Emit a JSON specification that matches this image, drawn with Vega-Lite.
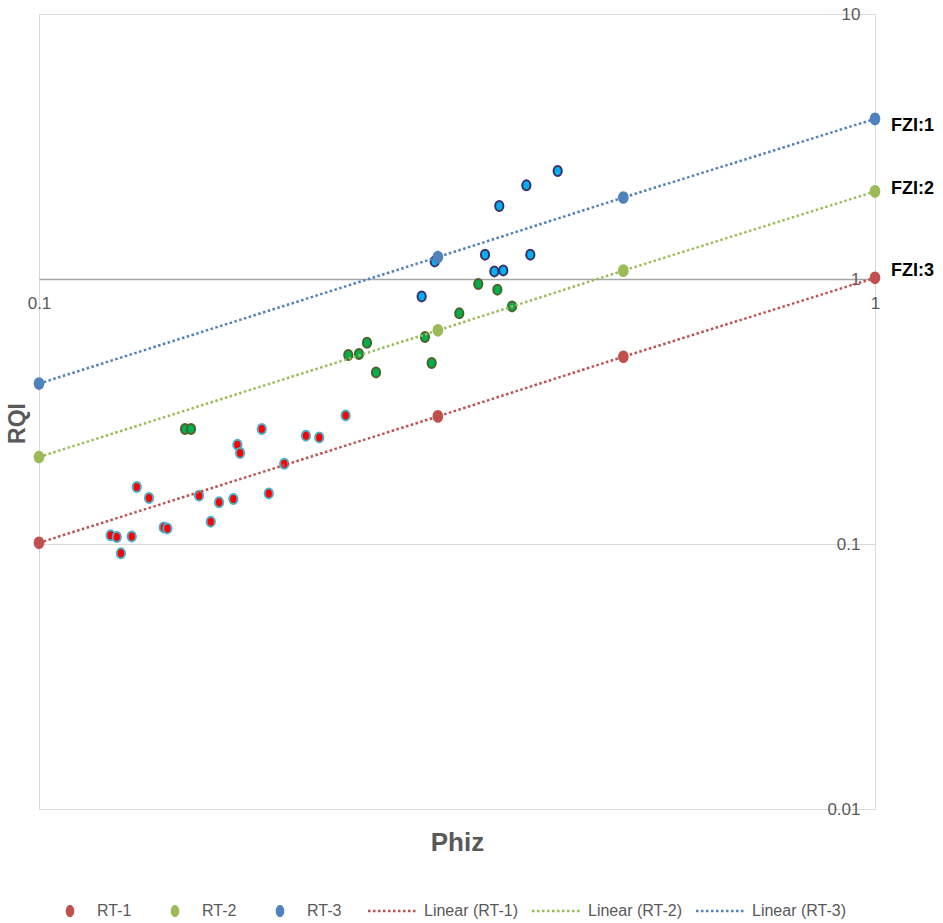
{
  "$schema": "https://vega.github.io/schema/vega-lite/v6.json",
  "width": 836,
  "height": 795,
  "autosize": {"type": "none"},
  "padding": {"left": 39, "top": 14, "right": 68, "bottom": 114},
  "background": "white",
  "config": {
    "view": {"stroke": null},
    "font": "Liberation Sans, sans-serif"
  },
  "datasets": {
    "rt": [
      {"phiz": 0.1, "rqi": 0.101, "series": "RT-1", "trend": "Linear (RT-1)"},
      {"phiz": 0.3, "rqi": 0.303, "series": "RT-1", "trend": "Linear (RT-1)"},
      {"phiz": 0.5, "rqi": 0.509, "series": "RT-1", "trend": "Linear (RT-1)"},
      {"phiz": 1, "rqi": 1.01, "series": "RT-1", "trend": "Linear (RT-1)"},
      {"phiz": 0.1, "rqi": 0.213, "series": "RT-2", "trend": "Linear (RT-2)"},
      {"phiz": 0.3, "rqi": 0.64, "series": "RT-2", "trend": "Linear (RT-2)"},
      {"phiz": 0.5, "rqi": 1.075, "series": "RT-2", "trend": "Linear (RT-2)"},
      {"phiz": 1, "rqi": 2.14, "series": "RT-2", "trend": "Linear (RT-2)"},
      {"phiz": 0.1, "rqi": 0.403, "series": "RT-3", "trend": "Linear (RT-3)"},
      {"phiz": 0.3, "rqi": 1.21, "series": "RT-3", "trend": "Linear (RT-3)"},
      {"phiz": 0.5, "rqi": 2.03, "series": "RT-3", "trend": "Linear (RT-3)"},
      {"phiz": 1, "rqi": 4.02, "series": "RT-3", "trend": "Linear (RT-3)"}
    ],
    "samples": [
      {"phiz": 0.1218, "rqi": 0.1078, "group": "A"},
      {"phiz": 0.1239, "rqi": 0.1063, "group": "A"},
      {"phiz": 0.1253, "rqi": 0.0922, "group": "A"},
      {"phiz": 0.1291, "rqi": 0.1068, "group": "A"},
      {"phiz": 0.1309, "rqi": 0.1641, "group": "A"},
      {"phiz": 0.1354, "rqi": 0.1491, "group": "A"},
      {"phiz": 0.141, "rqi": 0.1155, "group": "A"},
      {"phiz": 0.1424, "rqi": 0.1145, "group": "A"},
      {"phiz": 0.1554, "rqi": 0.1522, "group": "A"},
      {"phiz": 0.1605, "rqi": 0.1214, "group": "A"},
      {"phiz": 0.1642, "rqi": 0.1436, "group": "A"},
      {"phiz": 0.1708, "rqi": 0.1478, "group": "A"},
      {"phiz": 0.1727, "rqi": 0.237, "group": "A"},
      {"phiz": 0.174, "rqi": 0.2205, "group": "A"},
      {"phiz": 0.1847, "rqi": 0.2716, "group": "A"},
      {"phiz": 0.1883, "rqi": 0.1552, "group": "A"},
      {"phiz": 0.1965, "rqi": 0.2009, "group": "A"},
      {"phiz": 0.2086, "rqi": 0.2563, "group": "A"},
      {"phiz": 0.2164, "rqi": 0.2525, "group": "A"},
      {"phiz": 0.2327, "rqi": 0.3057, "group": "A"},
      {"phiz": 0.1495, "rqi": 0.2716, "group": "B"},
      {"phiz": 0.152, "rqi": 0.2716, "group": "B"},
      {"phiz": 0.2344, "rqi": 0.5166, "group": "B"},
      {"phiz": 0.2414, "rqi": 0.5211, "group": "B"},
      {"phiz": 0.2468, "rqi": 0.5748, "group": "B"},
      {"phiz": 0.253, "rqi": 0.4442, "group": "B"},
      {"phiz": 0.2895, "rqi": 0.604, "group": "B"},
      {"phiz": 0.2949, "rqi": 0.4819, "group": "B"},
      {"phiz": 0.3182, "rqi": 0.7418, "group": "B"},
      {"phiz": 0.3353, "rqi": 0.9575, "group": "B"},
      {"phiz": 0.3534, "rqi": 0.9113, "group": "B"},
      {"phiz": 0.368, "rqi": 0.7882, "group": "B"},
      {"phiz": 0.2869, "rqi": 0.8597, "group": "C"},
      {"phiz": 0.2974, "rqi": 1.165, "group": "C"},
      {"phiz": 0.3416, "rqi": 1.2351, "group": "C"},
      {"phiz": 0.3505, "rqi": 1.0683, "group": "C"},
      {"phiz": 0.3592, "rqi": 1.0776, "group": "C"},
      {"phiz": 0.387, "rqi": 1.2351, "group": "C"},
      {"phiz": 0.3553, "rqi": 1.886, "group": "C"},
      {"phiz": 0.3828, "rqi": 2.2559, "group": "C"},
      {"phiz": 0.4173, "rqi": 2.556, "group": "C"}
    ],
    "labels": [
      {"phiz": 1, "rqi": 3.77, "label": "FZI:1"},
      {"phiz": 1, "rqi": 2.18, "label": "FZI:2"},
      {"phiz": 1, "rqi": 1.075, "label": "FZI:3"}
    ]
  },
  "encoding": {
    "x": {
      "field": "phiz",
      "type": "quantitative",
      "scale": {"type": "log", "domain": [0.1, 1], "nice": false},
      "axis": {
        "title": "Phiz",
        "orient": "bottom",
        "offset": -530,
        "values": [0.1, 1],
        "format": "~g",
        "labelFlush": false,
        "labelOverlap": false,
        "ticks": false,
        "domainColor": "#a6a6a6",
        "domainWidth": 1.3,
        "grid": true,
        "gridColor": "#d9d9d9",
        "gridWidth": 1,
        "labelFontSize": 17,
        "labelColor": "#595959",
        "labelPadding": 16,
        "titleFontSize": 26,
        "titleFontWeight": "bold",
        "titleColor": "#595959",
        "titleY": 571,
        "titleBaseline": "alphabetic"
      }
    },
    "y": {
      "field": "rqi",
      "type": "quantitative",
      "scale": {"type": "log", "domain": [0.01, 10], "nice": false},
      "axis": {
        "title": "RQI",
        "orient": "left",
        "offset": -836,
        "values": [0.01, 0.1, 1, 10],
        "format": "~g",
        "labelFlush": false,
        "labelOverlap": false,
        "ticks": false,
        "domain": false,
        "grid": true,
        "gridColor": "#d9d9d9",
        "gridWidth": 1,
        "labelFontSize": 17,
        "labelColor": "#595959",
        "labelPadding": 15,
        "titleFontSize": 23,
        "titleFontWeight": "bold",
        "titleColor": "#595959",
        "titleAngle": 270,
        "titleX": -851,
        "titleY": 409,
        "titleAlign": "center",
        "titleBaseline": "alphabetic"
      }
    }
  },
  "layer": [
    {
      "data": {"name": "samples"},
      "transform": [{"filter": "datum.group == 'A'"}],
      "mark": {"type": "point", "filled": true, "shape": "M-0.82,0A0.82,1,0,1,1,0.82,0A0.82,1,0,1,1,-0.82,0Z", "size": 100, "fill": "#FF0000", "stroke": "#4BACC6", "strokeWidth": 2, "opacity": 1}
    },
    {
      "data": {"name": "samples"},
      "transform": [{"filter": "datum.group == 'B'"}],
      "mark": {"type": "point", "filled": true, "shape": "M-0.82,0A0.82,1,0,1,1,0.82,0A0.82,1,0,1,1,-0.82,0Z", "size": 100, "fill": "#00B050", "stroke": "#4F6228", "strokeWidth": 2, "opacity": 1}
    },
    {
      "data": {"name": "samples"},
      "transform": [{"filter": "datum.group == 'C'"}],
      "mark": {"type": "point", "filled": true, "shape": "M-0.82,0A0.82,1,0,1,1,0.82,0A0.82,1,0,1,1,-0.82,0Z", "size": 100, "fill": "#00B0F0", "stroke": "#3B3168", "strokeWidth": 2, "opacity": 1}
    },
    {
      "data": {"name": "rt"},
      "mark": {"type": "line", "strokeDash": [2.5, 2.5], "strokeWidth": 2.5},
      "encoding": {
        "stroke": {
          "field": "trend",
          "type": "nominal",
          "scale": {"domain": ["Linear (RT-1)", "Linear (RT-2)", "Linear (RT-3)"], "range": ["#C0504D", "#9BBB59", "#4F81BD"]},
          "legend": {
            "orient": "none",
            "legendX": 345,
            "legendY": 889,
            "direction": "horizontal",
            "title": null,
            "padding": 0,
            "symbolType": "M-4,0L4,0",
            "symbolSize": 144,
            "symbolDash": [2.5, 2.5],
            "symbolStrokeWidth": 2.5,
            "labelFontSize": 16,
            "labelColor": "#595959",
            "labelOffset": 24,
            "columnPadding": 9
          }
        }
      }
    },
    {
      "data": {"name": "rt"},
      "mark": {"type": "point", "filled": true, "shape": "M-0.84,0A0.84,1,0,1,1,0.84,0A0.84,1,0,1,1,-0.84,0Z", "size": 160, "opacity": 1},
      "encoding": {
        "fill": {
          "field": "series",
          "type": "nominal",
          "scale": {"domain": ["RT-1", "RT-2", "RT-3"], "range": ["#C0504D", "#9BBB59", "#4F81BD"]},
          "legend": {
            "orient": "none",
            "legendX": 23,
            "legendY": 889,
            "direction": "horizontal",
            "title": null,
            "padding": 0,
            "symbolType": "M-0.7,0A0.7,1,0,1,1,0.7,0A0.7,1,0,1,1,-0.7,0Z",
            "symbolSize": 150,
            "symbolStrokeWidth": 0,
            "labelFontSize": 16,
            "labelColor": "#595959",
            "labelOffset": 19,
            "columnPadding": 35
          }
        }
      }
    },
    {
      "data": {"name": "labels"},
      "mark": {"type": "text", "align": "left", "baseline": "middle", "dx": 16, "fontSize": 18, "fontWeight": "bold", "color": "#000000"},
      "encoding": {"text": {"field": "label", "type": "nominal"}}
    }
  ]
}
